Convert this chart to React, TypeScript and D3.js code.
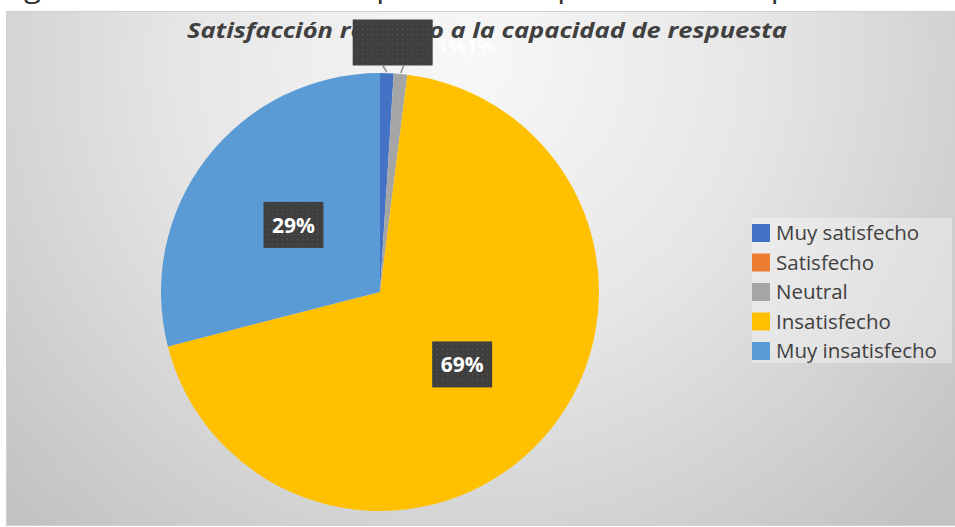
import * as d3 from 'd3';
import React, { useEffect, useRef } from 'react';

const categories = ['Muy satisfecho', 'Satisfecho', 'Neutral', 'Insatisfecho', 'Muy insatisfecho'];
const values = [1, 0, 1, 69, 29];
const colors = ['#4472C4', '#ED7D31', '#A5A5A5', '#FFC000', '#5B9BD5'];
const chartTitle = 'Satisfacción respecto a la capacidad de respuesta';
const captionText = 'Figura 13. Satisfacción respecto a la capacidad de respuesta';
const smallLabelText = '1%1%';

const W = 955;
const H = 527;

function App() {
    const ref = useRef(null);

    useEffect(() => {
        const svg = d3.select(ref.current);
        svg.selectAll('*').remove();

        const defs = svg.append('defs');
        const grad = defs.append('radialGradient')
            .attr('id', 'bg')
            .attr('gradientUnits', 'userSpaceOnUse')
            .attr('cx', 470).attr('cy', 60).attr('r', 640);
        grad.append('stop').attr('offset', '0%').attr('stop-color', '#f8f8f8');
        grad.append('stop').attr('offset', '45%').attr('stop-color', '#e6e6e6');
        grad.append('stop').attr('offset', '100%').attr('stop-color', '#c2c2c2');

        const pat = defs.append('pattern')
            .attr('id', 'dots')
            .attr('width', 5).attr('height', 5)
            .attr('patternUnits', 'userSpaceOnUse');
        pat.append('rect').attr('width', 5).attr('height', 5).attr('fill', '#3f3f3f');
        pat.append('circle').attr('cx', 2.5).attr('cy', 2.5).attr('r', 0.7).attr('fill', '#555');

        // caption of the document, cut off at the top
        svg.append('text')
            .attr('x', 0)
            .attr('y', -3)
            .attr('textLength', 870)
            .attr('lengthAdjust', 'spacingAndGlyphs')
            .style('font-family', 'Open Sans, sans-serif')
            .style('font-size', '28px')
            .style('fill', '#333')
            .text(captionText);

        // chart area
        svg.append('rect')
            .attr('x', 6.5).attr('y', 11.5)
            .attr('width', W).attr('height', H - 13)
            .attr('fill', 'url(#bg)')
            .attr('stroke', '#d0d0d0');

        svg.append('text')
            .attr('x', 487)
            .attr('y', 38)
            .attr('text-anchor', 'middle')
            .attr('textLength', 600)
            .attr('lengthAdjust', 'spacingAndGlyphs')
            .style('font-family', 'Open Sans, sans-serif')
            .style('font-size', '21px')
            .style('font-weight', 'bold')
            .style('font-style', 'italic')
            .style('fill', '#404040')
            .text(chartTitle);

        const cx = 380, cy = 292, r = 219;
        const pie = d3.pie().value(d => d).sort(null);
        const arcs = pie(values);
        const arc = d3.arc().innerRadius(0).outerRadius(r);
        const labelArc = d3.arc().innerRadius(r * 0.5).outerRadius(r * 0.5);

        const g = svg.append('g').attr('transform', `translate(${cx},${cy})`);
        g.selectAll('path')
            .data(arcs)
            .enter()
            .append('path')
            .attr('d', arc)
            .attr('fill', (d, i) => colors[i]);

        // inside labels for the big slices
        const big = arcs.filter(d => d.value >= 5);
        const bw = 60, bh = 46;
        big.forEach(d => {
            const [x, y] = labelArc.centroid(d);
            g.append('rect')
                .attr('x', x - bw / 2).attr('y', y - bh / 2)
                .attr('width', bw).attr('height', bh)
                .attr('fill', 'url(#dots)');
            g.append('text')
                .attr('x', x).attr('y', y + 8)
                .attr('text-anchor', 'middle')
                .style('font-family', 'Open Sans, sans-serif')
                .style('font-size', '21px')
                .style('font-weight', 'bold')
                .style('fill', '#fff')
                .text(d3.format('.0%')(d.value / 100));
        });

        // small slices: labels outside, piled on top of each other
        const small = arcs.filter(d => d.value < 5);
        const midA = d3.mean(small, d => (d.startAngle + d.endAngle) / 2);
        const boxR = r + 31;
        const bx = Math.sin(midA) * boxR - 3;
        const by = -Math.cos(midA) * boxR;
        const sbw = 80;
        small.filter(d => d.value > 0).forEach((d, k) => {
            const a = (d.startAngle + d.endAngle) / 2;
            g.append('line')
                .attr('x1', Math.sin(a) * (r + 1)).attr('y1', -Math.cos(a) * (r + 1))
                .attr('x2', bx - 10 + k * 21).attr('y2', by + bh / 2)
                .attr('stroke', '#8c8c8c')
                .attr('stroke-width', 1.5);
        });
        g.append('rect')
            .attr('x', bx - sbw / 2).attr('y', by - bh / 2)
            .attr('width', sbw).attr('height', bh)
            .attr('fill', 'url(#dots)');
        g.append('text')
            .attr('x', bx + sbw / 2 + 4).attr('y', by + 10)
            .style('font-family', 'Open Sans, sans-serif')
            .style('font-size', '20px')
            .style('font-weight', 'bold')
            .style('fill', '#fff')
            .style('fill-opacity', 0.9)
            .text(smallLabelText);

        // legend
        const lx = 752, ly = 218, rowH = 29.5;
        svg.append('rect')
            .attr('x', lx).attr('y', ly)
            .attr('width', 200).attr('height', 145)
            .attr('fill', '#fff')
            .attr('fill-opacity', 0.35);
        const item = svg.selectAll('.leg')
            .data(categories)
            .enter()
            .append('g')
            .attr('transform', (d, i) => `translate(${lx},${ly + 6 + i * rowH})`);
        item.append('rect')
            .attr('width', 18).attr('height', 18)
            .attr('fill', (d, i) => colors[i]);
        item.append('text')
            .attr('x', 24).attr('y', 16)
            .style('font-family', 'Open Sans, sans-serif')
            .style('font-size', '20.5px')
            .style('fill', '#404040')
            .text(d => d);
    }, []);

    return (
        <svg ref={ref} width={W} height={H} style={{ position: 'absolute', left: 0, top: 0 }}></svg>
    );
}

export default App;
